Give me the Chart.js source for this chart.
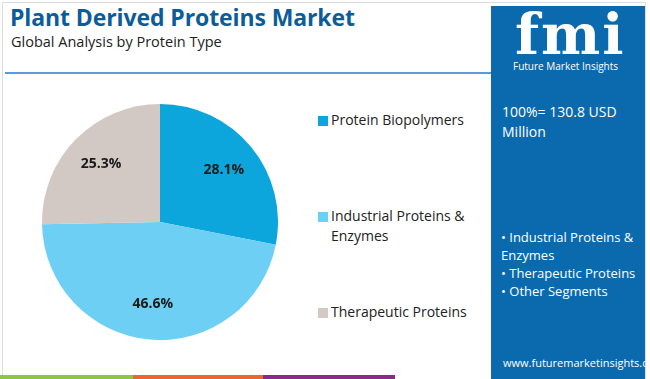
<!DOCTYPE html>
<html>
<head>
<meta charset="utf-8">
<script src="https://cdn.jsdelivr.net/npm/chart.js@4"></script>
<style>
  html, body { margin: 0; padding: 0; background: #fff; }
  body { width: 650px; height: 379px; position: relative; overflow: hidden; font-family: "Open Sans", "Noto Sans", sans-serif; }
  .frame { position: absolute; left: 2px; top: 2px; width: 644px; height: 380px; border: 1px solid #ddd; box-sizing: border-box; }
  h1 { position: absolute; left: 10px; top: 1px; margin: 0; font: 700 23px "Open Sans", sans-serif; color: #0d5c9a; letter-spacing: -0.1px; }
  .sub { position: absolute; left: 11px; top: 32px; font: 400 14.5px "Open Sans", sans-serif; color: #222; }
  .rule { position: absolute; left: 5px; top: 72px; width: 486px; height: 2px; background: #5b9bd5; }
  #wrap { position: absolute; left: 42px; top: 104px; width: 236px; height: 236px; }
  .legend { position: absolute; left: 318px; font: 400 14px "Open Sans", sans-serif; color: #222; line-height: 20px; }
  .legend i { position: absolute; left: 0; top: 6px; width: 10px; height: 10px; }
  .legend span { display: block; margin-left: 13px; }
  .panel { position: absolute; left: 491px; top: 6px; width: 154px; height: 373px; background: #0b6aad; color: #fff; }
  .logo { position: absolute; left: 24px; top: -5px; font: 700 56px "DejaVu Serif", serif; color: #fff; letter-spacing: 2px; }
  .logo-sub { position: absolute; left: 22px; top: 53px; font: 400 10px "Open Sans", sans-serif; color: #fff; }
  .total { position: absolute; left: 11px; top: 96px; font: 400 14px "Open Sans", sans-serif; line-height: 20px; width: 140px; }
  .segs { position: absolute; left: 10px; top: 222px; font: 400 13px "Open Sans", sans-serif; line-height: 18px; width: 144px; }
  .url { position: absolute; left: 12px; top: 349px; font: 400 11px "Open Sans", sans-serif; }
  .stripe { position: absolute; top: 375px; height: 4px; }
</style>
</head>
<body>
<div class="frame"></div>
<h1>Plant Derived Proteins Market</h1>
<div class="sub">Global Analysis by Protein Type</div>
<div class="rule"></div>
<div id="wrap"><canvas id="pie"></canvas></div>
<div id="legend"></div>
<div class="panel">
  <div class="logo">fmi</div>
  <div class="logo-sub">Future Market Insights</div>
  <div class="total">100%= 130.8 USD Million</div>
  <div class="segs">• Industrial Proteins &amp; Enzymes<br>• Therapeutic Proteins<br>• Other Segments</div>
  <div class="url">www.futuremarketinsights.com</div>
</div>
<div class="stripe" style="left:0;width:133px;background:#8dc63f"></div>
<div class="stripe" style="left:133px;width:130px;background:#e8692e"></div>
<div class="stripe" style="left:263px;width:132px;background:#8b2a8a"></div>
<script>
const categories = ["Protein Biopolymers", "Industrial Proteins & Enzymes", "Therapeutic Proteins"];
const shares = [28.1, 46.6, 25.3];
const colors = ["#0ca5dc", "#6ccff3", "#d3c9c4"];
const legendTops = [110, 206, 302];

const legendBox = document.getElementById("legend");
categories.forEach((name, i) => {
  const d = document.createElement("div");
  d.className = "legend";
  d.style.top = legendTops[i] + "px";
  d.style.width = "160px";
  d.innerHTML = `<i style="background:${colors[i]}"></i><span>${name.replace("&", "&amp;")}</span>`;
  legendBox.appendChild(d);
});

// percentage labels inside each slice
const pctLabels = {
  id: "pctLabels",
  afterDatasetsDraw(chart) {
    const { ctx } = chart;
    const meta = chart.getDatasetMeta(0);
    ctx.save();
    ctx.font = "700 14px 'Open Sans', sans-serif";
    ctx.fillStyle = "#1a1a1a";
    ctx.textAlign = "center";
    ctx.textBaseline = "middle";
    meta.data.forEach((arc, i) => {
      const mid = (arc.startAngle + arc.endAngle) / 2;
      const r = arc.outerRadius * 0.7;
      ctx.fillText(shares[i].toFixed(1) + "%", arc.x + Math.cos(mid) * r, arc.y + Math.sin(mid) * r);
    });
    ctx.restore();
  }
};

new Chart(document.getElementById("pie"), {
  type: "pie",
  data: {
    labels: categories,
    datasets: [{ data: shares, backgroundColor: colors, borderWidth: 0 }]
  },
  options: {
    responsive: true,
    maintainAspectRatio: false,
    animation: false,
    layout: { padding: 0 },
    plugins: { legend: { display: false }, tooltip: { enabled: false } }
  },
  plugins: [pctLabels]
});
</script>
</body>
</html>
